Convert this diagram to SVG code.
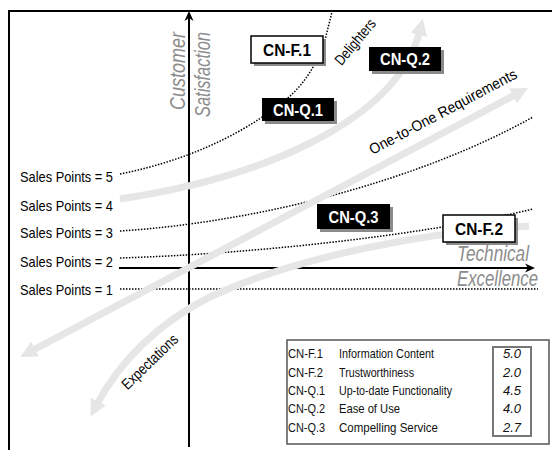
<svg xmlns="http://www.w3.org/2000/svg" width="552" height="450" viewBox="0 0 552 450">
<style>
.sp{font-family:"Liberation Sans",Arial,sans-serif;font-size:15px;fill:#000}
.axl{font-family:"Liberation Sans",Arial,sans-serif;font-size:22px;font-style:italic;fill:#8c8c8c}
.bt{font-family:"Liberation Sans",Arial,sans-serif;font-size:17px;font-weight:bold;text-anchor:middle}
.lab{font-family:"Liberation Sans",Arial,sans-serif;font-size:15px;fill:#000;text-anchor:middle}
.lg{font-family:"Liberation Sans",Arial,sans-serif;font-size:13px;fill:#111}
.lv{font-family:"Liberation Sans",Arial,sans-serif;font-size:13px;fill:#111;font-style:italic;text-anchor:end}
.dot{fill:none;stroke:#000;stroke-width:1.5;stroke-dasharray:1.5 1.5}
.gray{fill:none;stroke:#e6e6e6;stroke-width:7}
.ax{stroke:#000;stroke-width:2;fill:none}
.shadow{fill:#8a8a8a}
</style>
<defs>
<marker id="gh" viewBox="0 0 10 10" refX="3" refY="5" markerWidth="2.4" markerHeight="2.4" orient="auto-start-reverse" markerUnits="strokeWidth">
<path d="M0,0 L10,5 L0,10 z" fill="#e6e6e6"/>
</marker>
</defs>
<rect width="552" height="450" fill="#fff"/>
<g id="frame">
<path d="M9,450 L9,11 L552,11" fill="none" stroke="#000" stroke-width="2"/>
</g>
<g id="sales-labels">
<text class="sp" x="20" y="182" textLength="93" lengthAdjust="spacingAndGlyphs">Sales Points = 5</text>
<text class="sp" x="20" y="211" textLength="93" lengthAdjust="spacingAndGlyphs">Sales Points = 4</text>
<text class="sp" x="20" y="238" textLength="93" lengthAdjust="spacingAndGlyphs">Sales Points = 3</text>
<text class="sp" x="20" y="267" textLength="93" lengthAdjust="spacingAndGlyphs">Sales Points = 2</text>
<text class="sp" x="20" y="295" textLength="93" lengthAdjust="spacingAndGlyphs">Sales Points = 1</text>
</g>
<g id="connectors">
<path class="dot" d="M120,174 C180,162 240,138 289,97 C305,83 318,62 325,40 L332,12"/>
<path class="dot" d="M120,231 C260,222 420,180 533,117"/>
<path class="dot" d="M120,258 C250,254 420,236 533,209"/>
<path class="dot" d="M120,289 L538,289"/>
<line class="ax" x1="189" y1="18" x2="189" y2="447"/>
<polygon points="189,11 184.5,21 189,18 193.5,21" fill="#000"/>
<line class="ax" x1="119" y1="268" x2="528" y2="268"/>
<polygon points="535,268 525,263.5 528,268 525,272.5" fill="#000"/>
<path class="gray" d="M120,199 C250,180 397,125 420,30" marker-end="url(#gh)"/>
<path class="gray" d="M30.6,351.4 L517.4,93.6" marker-start="url(#gh)" marker-end="url(#gh)"/>
<path class="gray" d="M529,226 C430,232 300,255 210,297 C160,322 120,360 96,406" marker-end="url(#gh)"/>
</g>
<g id="axis-labels">
<text class="axl" transform="translate(185,110) rotate(-90)" textLength="78" lengthAdjust="spacingAndGlyphs">Customer</text>
<text class="axl" transform="translate(210,117) rotate(-90)" textLength="85" lengthAdjust="spacingAndGlyphs">Satisfaction</text>
<text class="axl" x="457" y="261" textLength="72" lengthAdjust="spacingAndGlyphs">Technical</text>
<text class="axl" x="457" y="286" textLength="81" lengthAdjust="spacingAndGlyphs">Excellence</text>
<text class="lab" transform="translate(356,42.5) rotate(-50)" y="4" textLength="55" lengthAdjust="spacingAndGlyphs">Delighters</text>
<text class="lab" transform="translate(445.4,116.2) rotate(-28)" textLength="165" lengthAdjust="spacingAndGlyphs">One-to-One Requirements</text>
<text class="lab" transform="translate(150.5,362.5) rotate(-44)" y="4" textLength="72" lengthAdjust="spacingAndGlyphs">Expectations</text>
</g>
<g id="CN-F.1">
<rect class="shadow" x="254" y="39" width="72" height="27"/>
<rect x="251" y="36" width="72" height="27" fill="#fff" stroke="#000" stroke-width="1.5"/>
<text class="bt" x="287" y="55.5" fill="#000" textLength="48" lengthAdjust="spacingAndGlyphs">CN-F.1</text>
</g>
<g id="CN-Q.2">
<rect class="shadow" x="372" y="50" width="72" height="24"/>
<rect x="369" y="47" width="72" height="24" fill="#000"/>
<text class="bt" x="405" y="65" fill="#fff" textLength="50" lengthAdjust="spacingAndGlyphs">CN-Q.2</text>
</g>
<g id="CN-Q.1">
<rect class="shadow" x="265" y="101" width="72" height="23"/>
<rect x="262" y="98" width="72" height="23" fill="#000"/>
<text class="bt" x="298" y="115.5" fill="#fff" textLength="50" lengthAdjust="spacingAndGlyphs">CN-Q.1</text>
</g>
<g id="CN-Q.3">
<rect class="shadow" x="320" y="207" width="73" height="25"/>
<rect x="317" y="204" width="73" height="25" fill="#000"/>
<text class="bt" x="353.5" y="222.5" fill="#fff" textLength="50" lengthAdjust="spacingAndGlyphs">CN-Q.3</text>
</g>
<g id="CN-F.2">
<rect class="shadow" x="446" y="218" width="72" height="27"/>
<rect x="443" y="215" width="72" height="27" fill="#fff" stroke="#000" stroke-width="1.5"/>
<text class="bt" x="479" y="234.5" fill="#000" textLength="48" lengthAdjust="spacingAndGlyphs">CN-F.2</text>
</g>
<g id="legend">
<rect x="287" y="340" width="262" height="104" fill="#fff" stroke="#555" stroke-width="1.5"/>
<rect x="493" y="347" width="38" height="89" fill="none" stroke="#777" stroke-width="2"/>
<text class="lg" x="288" y="358" textLength="35" lengthAdjust="spacingAndGlyphs">CN-F.1</text>
<text class="lg" x="288" y="377" textLength="35" lengthAdjust="spacingAndGlyphs">CN-F.2</text>
<text class="lg" x="288" y="395" textLength="37" lengthAdjust="spacingAndGlyphs">CN-Q.1</text>
<text class="lg" x="288" y="413" textLength="37" lengthAdjust="spacingAndGlyphs">CN-Q.2</text>
<text class="lg" x="288" y="432" textLength="37" lengthAdjust="spacingAndGlyphs">CN-Q.3</text>
<text class="lg" x="339" y="358" textLength="95" lengthAdjust="spacingAndGlyphs">Information Content</text>
<text class="lg" x="339" y="377" textLength="75" lengthAdjust="spacingAndGlyphs">Trustworthiness</text>
<text class="lg" x="339" y="395" textLength="113" lengthAdjust="spacingAndGlyphs">Up-to-date Functionality</text>
<text class="lg" x="339" y="413" textLength="61" lengthAdjust="spacingAndGlyphs">Ease of Use</text>
<text class="lg" x="339" y="432" textLength="99" lengthAdjust="spacingAndGlyphs">Compelling Service</text>
<text class="lv" x="521" y="358">5.0</text>
<text class="lv" x="521" y="377">2.0</text>
<text class="lv" x="521" y="395">4.5</text>
<text class="lv" x="521" y="413">4.0</text>
<text class="lv" x="521" y="432">2.7</text>
</g>
</svg>
